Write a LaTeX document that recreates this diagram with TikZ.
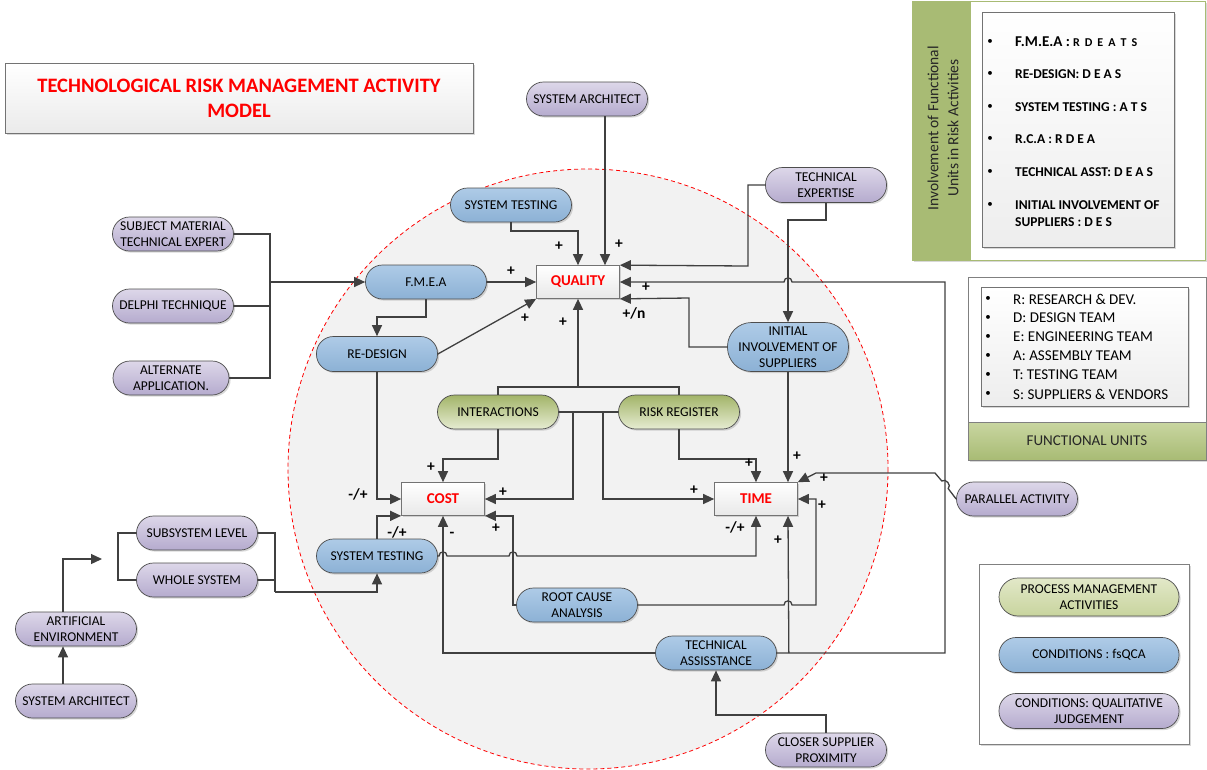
\documentclass[tikz,border=0pt]{standalone}
\usepackage{fontspec}
\setmainfont{Carlito}
\usetikzlibrary{shapes.misc,shadows,arrows.meta,calc}
\definecolor{bluetop}{HTML}{AECBE7}
\definecolor{bluebot}{HTML}{8CB1D5}
\definecolor{purtop}{HTML}{DDD7E9}
\definecolor{purbot}{HTML}{B5ABCE}
\definecolor{grntop}{HTML}{A2B468}
\definecolor{grnbot}{HTML}{E6ECD2}
\definecolor{keygrntop}{HTML}{E2E8C8}
\definecolor{keygrnbot}{HTML}{C8D49E}
\definecolor{linecol}{HTML}{404040}
\definecolor{edgecol}{HTML}{4D4D4D}
\definecolor{barcol}{HTML}{A8BB74}
\definecolor{bartop}{HTML}{C9D6A1}
\begin{document}
\begin{tikzpicture}[x=1pt,y=-1pt,
  softshadow/.style={drop shadow={opacity=0.3,shadow xshift=1.6pt,shadow yshift=-1.6pt}},
  pill/.style={rectangle, rounded corners=17pt, draw=edgecol, line width=0.7pt, minimum width=121pt,
    minimum height=34pt, inner xsep=0pt, inner ysep=1pt, align=center, text=black,
    font=\fontsize{13.5}{16}\selectfont, softshadow},
  bluepill/.style={pill, top color=bluetop, bottom color=bluebot},
  purpill/.style={pill, top color=purtop, bottom color=purbot},
  grnpill/.style={pill, top color=grntop, bottom color=grnbot},
  keygrnpill/.style={pill, top color=keygrntop, bottom color=keygrnbot},
  outcome/.style={rectangle, draw=black!55, line width=0.7pt, top color=white,
    bottom color=black!9, minimum width=83pt, minimum height=33pt, text=red,
    font=\bfseries\fontsize{15}{16}\selectfont, softshadow},
  panel/.style={rectangle, draw=black!55, line width=0.7pt, inner sep=0pt},
  conn/.style={draw=linecol, line width=1.3pt},
  arr/.style={conn, -{Triangle[length=11pt,width=10pt]}},
  signlab/.style={inner sep=0pt, font=\bfseries\fontsize{15.5}{15.5}\selectfont, text=black},
  listitem/.style={anchor=west, inner sep=0pt, text=black},
  dot/.style={inner sep=0pt, font=\fontsize{11}{11}\selectfont},
]
\useasboundingbox (0,0) rectangle (1207,769);
\fill[white] (0,0) rectangle (1207,769);

% scope of the risk activities
\fill[black!5] (588,469) circle (300);
\draw[red, dashed, dash pattern=on 4pt off 3pt, line width=0.8pt] (588,469) circle (300);

% title
\node[panel, top color=white, bottom color=black!8, minimum width=468pt, minimum height=70pt,
  align=center, text=red, font=\bfseries\fontsize{20.5}{25}\selectfont, softshadow]
  (title) at (239,98) {TECHNOLOGICAL RISK MANAGEMENT ACTIVITY\\MODEL};

% activity and condition nodes
\node[purpill] (sarch) at (587,99) {SYSTEM ARCHITECT};
\node[bluepill] (sttop) at (511,205) {SYSTEM TESTING};
\node[outcome] (quality) at (578,282) {QUALITY};
\node[bluepill] (fmea) at (426,282) {F.M.E.A};
\node[bluepill, minimum height=35pt] (redesign) at (377,354) {RE-DESIGN};
\node[purpill] (smte) at (173,234) {SUBJECT MATERIAL\\TECHNICAL EXPERT};
\node[purpill] (delphi) at (173,306) {DELPHI TECHNIQUE};
\node[purpill, minimum width=116pt] (altapp) at (171,378) {ALTERNATE\\APPLICATION.};
\node[purpill, minimum height=35pt] (techexp) at (826,185) {TECHNICAL\\EXPERTISE};
\node[bluepill, minimum height=49pt, rounded corners=24pt] (iis) at (788,347) {INITIAL\\INVOLVEMENT OF\\SUPPLIERS};
\node[grnpill] (inter) at (498,412) {INTERACTIONS};
\node[grnpill] (riskreg) at (679,412) {RISK REGISTER};
\node[outcome] (cost) at (443,499) {COST};
\node[outcome] (time) at (756,499) {TIME};
\node[bluepill] (stbot) at (377,556) {SYSTEM TESTING};
\node[bluepill] (rca) at (577,605) {ROOT CAUSE\\ANALYSIS};
\node[bluepill] (techasst) at (716,653) {TECHNICAL\\ASSISSTANCE};
\node[purpill] (closer) at (826,750) {CLOSER SUPPLIER\\PROXIMITY};
\node[purpill] (parallel) at (1017,499) {PARALLEL ACTIVITY};
\node[purpill] (subsys) at (197,533) {SUBSYSTEM LEVEL};
\node[purpill] (whole) at (197,580) {WHOLE SYSTEM};
\node[purpill] (artenv) at (76,629) {ARTIFICIAL\\ENVIRONMENT};
\node[purpill] (sarch2) at (76,701) {SYSTEM ARCHITECT};

% inputs to F.M.E.A
\draw[conn] (smte.east) -- (270,234) -- (270,378) -- (altapp.east);
\draw[conn] (delphi.east) -- (270,306);
\draw[arr] (270,282) -- (fmea.west);
\draw[arr] (fmea.south) -- (426,317) -| (redesign.north);

% links into QUALITY
\draw[arr] (fmea.east) -- (quality.west);
\draw[arr] (redesign.east) -- (quality.south west);
\draw[arr] (sttop.south) -- (511,231) -| (quality.north);
\draw[arr] (sarch.south -| 605,0) -- (quality.north -| 605,0);
\draw[arr] (techexp.west) -| (748,266) -- (quality.north east);
\draw[arr] (techexp.south) -- (826,220) -| (iis.north);
\draw[arr] (iis.west) -| (689,298) -- (quality.south east);
\draw[arr] (techasst.east) -- (945,653) -- (945,282) -- (792,282)
  .. controls (792,276.5) and (784,276.5) .. (784,282) -- (quality.east);

% process management activities
\draw[conn] (inter.north) -- (498,387) -- (679,387) -- (riskreg.north);
\draw[arr] (quality.south |- 0,387) -- (quality.south);
\draw[conn] (inter.east) -- (riskreg.west);
\draw[arr] (573,412) |- (cost.east);
\draw[arr] (603,412) |- (time.west);
\draw[arr] (inter.south) -- (498,459) -| (cost.north);
\draw[arr] (riskreg.south) -- (679,459) -| (time.north);

% links into COST and TIME
\draw[arr] (redesign.south) |- (cost.west);
\draw[arr] (stbot.north) |- (cost.south west);
\draw[arr] (stbot.east) -- (439,556) .. controls (439,550.5) and (447,550.5) .. (447,556)
  -- (509,556) .. controls (509,550.5) and (517,550.5) .. (517,556) -- (756,556) -- (time.south);
\draw[arr] (rca.west) -- (513,605) |- (cost.south east);
\draw[arr] (rca.east) -- (784,605) .. controls (784,599.5) and (792,599.5) .. (792,605)
  -- (816,605) |- (time.east);
\draw[arr] (techasst.west) -| (cost.south);
\draw[arr] ($(techasst.east)+(12,0)$) -- ($(time.south)+(32,0)$);
\draw[arr] (iis.south) -- ($(time.north)+(32,0)$);
\draw[arr] (parallel.west) -- (948.2,488.6) .. controls (952.0,485.4) and (945.6,477.8) .. (941.8,481.0)
  -- (935,473) -- (816,473) -- (time.north east);
\draw[arr] (closer.north) -- (826,715) -| (techasst.south);

% test environment for system testing
\draw[conn] (subsys.west) -- (118,533) -- (118,580) -- (whole.west);
\draw[conn] (subsys.east) -- (275,533) -- (275,592);
\draw[conn] (whole.east) -- (275,580);
\draw[arr] (275,592) -| (stbot.south);
\coordinate (aeend) at (102,559);
\draw[arr] ($(artenv.north)+(-13,0)$) |- (aeend);
\draw[arr] ($(sarch2.north)+(-13,0)$) -- ($(artenv.south)+(-13,0)$);

% polarity signs
\node[signlab] (p1) at (511,271) {+};
\node[signlab] (p2) at (559,246) {+};
\node[signlab] (p3) at (619,244) {+};
\node[signlab] (p4) at (525,318) {+};
\node[signlab] (p5) at (563,322) {+};
\node[signlab] (p6) at (646,287) {+};
\node[signlab] (p7) at (634,313) {+/n};
\node[signlab] (p8) at (358,494) {-/+};
\node[signlab] (p9) at (431,467) {+};
\node[signlab] (p10) at (503,492) {+};
\node[signlab] (p11) at (397,532) {-/+};
\node[signlab] (p12) at (452,535) {-};
\node[signlab] (p13) at (496,528) {+};
\node[signlab] (p14) at (749,463) {+};
\node[signlab] (p15) at (797,456) {+};
\node[signlab] (p16) at (694,490) {+};
\node[signlab] (p17) at (824,478) {+};
\node[signlab] (p18) at (822,505) {+};
\node[signlab] (p19) at (735,527) {-/+};
\node[signlab] (p20) at (778,540) {+};

% involvement of functional units
\node[panel, draw=barcol, line width=0.8pt, fill=white, minimum width=293pt, minimum height=259pt, softshadow]
  (invframe) at (1058.5,130.5) {};
\node[fill=barcol, minimum width=59pt, minimum height=259pt, inner sep=0pt] (invbar) at (941.5,130.5) {};
\node[rotate=90, align=center, font=\fontsize{15.5}{20}\selectfont, text=black!85]
  (invtitle) at (943,128) {Involvement of Functional\\Units in Risk Activities};
\node[panel, top color=white, bottom color=black!7, minimum width=192pt, minimum height=235pt, softshadow]
  (invlist) at (1078,129.5) {};
\begin{scope}[every node/.append style={font=\bfseries\fontsize{13.5}{15}\selectfont}]
\node[dot] (ib1) at (990,42) {\textbullet};
\node[listitem] (it1) at (1015,42) {{\fontsize{15}{15}\selectfont F.M.E.A :}
  {\fontsize{12}{12}\selectfont R\hspace{5pt}D\hspace{5pt}E\hspace{5pt}A\hspace{5pt}T\hspace{5pt}S}};
\node[dot] (ib2) at (990,74) {\textbullet};
\node[listitem] (it2) at (1015,74) {RE-DESIGN: D E A S};
\node[dot] (ib3) at (990,107) {\textbullet};
\node[listitem] (it3) at (1015,107) {SYSTEM TESTING : A T S};
\node[dot] (ib4) at (990,139) {\textbullet};
\node[listitem] (it4) at (1015,139) {R.C.A : R D E A};
\node[dot] (ib5) at (990,172) {\textbullet};
\node[listitem] (it5) at (1015,172) {TECHNICAL ASST: D E A S};
\node[dot] (ib6) at (990,205) {\textbullet};
\node[listitem] (it6) at (1015,205) {INITIAL INVOLVEMENT OF};
\node[listitem] (it7) at (1015,222) {SUPPLIERS : D E S};
\end{scope}

% functional units
\node[panel, draw=black!50, fill=white, minimum width=238pt, minimum height=183pt, softshadow]
  (fuframe) at (1087,368.5) {};
\node[panel, top color=white, bottom color=black!7, minimum width=207pt, minimum height=119pt, softshadow]
  (fulist) at (1084.5,346.5) {};
\node[panel, draw=black!50, top color=bartop, bottom color=barcol, minimum width=238pt, minimum height=38pt,
  font=\fontsize{15}{16}\selectfont, text=black!85] (fubar) at (1087,441) {FUNCTIONAL UNITS};
\begin{scope}[every node/.append style={font=\fontsize{15}{16}\selectfont}]
\node[dot] (fb1) at (988,299) {\textbullet};
\node[listitem] (fu1) at (1013,299) {R: RESEARCH \& DEV.};
\node[dot] (fb2) at (988,318) {\textbullet};
\node[listitem] (fu2) at (1013,318) {D: DESIGN TEAM};
\node[dot] (fb3) at (988,337) {\textbullet};
\node[listitem] (fu3) at (1013,337) {E: ENGINEERING TEAM};
\node[dot] (fb4) at (988,356) {\textbullet};
\node[listitem] (fu4) at (1013,356) {A: ASSEMBLY TEAM};
\node[dot] (fb5) at (988,375) {\textbullet};
\node[listitem] (fu5) at (1013,375) {T: TESTING TEAM};
\node[dot] (fb6) at (988,394) {\textbullet};
\node[listitem] (fu6) at (1013,394) {S: SUPPLIERS \& VENDORS};
\end{scope}

% key to node colours
\node[panel, draw=black!50, fill=white, minimum width=210pt, minimum height=180pt, softshadow]
  (keyframe) at (1084,654) {};
\node[keygrnpill, minimum width=180pt, minimum height=38pt, rounded corners=19pt] (keypma) at (1089,597) {PROCESS MANAGEMENT\\ACTIVITIES};
\node[bluepill, minimum width=180pt, minimum height=35pt] (keyfs) at (1089,655) {CONDITIONS : fsQCA};
\node[purpill, minimum width=180pt, minimum height=35pt] (keyqual) at (1089,711) {CONDITIONS: QUALITATIVE\\JUDGEMENT};
\end{tikzpicture}
\end{document}
